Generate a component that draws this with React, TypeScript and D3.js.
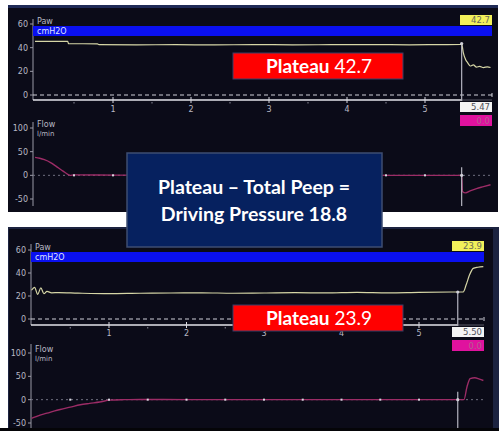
import React from "react";
import * as d3 from "d3";

// ---------- data ----------
const xTicks = [1, 2, 3, 4, 5];
const xMinorTicks = [0.5, 1.5, 2.5, 3.5, 4.5];
const pawTicks = [0, 20, 40, 60];
const flowTicks = [-50, 0, 50, 100];

// Top screen (before): Paw and Flow traces (time s, value)
const topPawT = [0, 0.42, 0.43, 0.8, 0.82, 1.3, 1.8, 2.3, 2.8, 3.3, 3.8, 4.3, 4.8, 5.2, 5.46, 5.47, 5.49, 5.52, 5.55, 5.58, 5.62, 5.66, 5.7, 5.75, 5.8, 5.84];
const topPawV = [45.3, 45.3, 43.4, 43.2, 42.6, 42.4, 42.5, 42.3, 42.6, 42.4, 42.5, 42.6, 42.4, 42.6, 42.7, 43.5, 36, 30, 27, 24.5, 25.5, 23.5, 24.2, 23.2, 23.8, 23.2];
const topFlowT = [0, 0.06, 0.12, 0.2, 0.28, 0.36, 0.42, 0.45, 0.5, 1, 2, 3, 4, 5, 5.46, 5.47, 5.48, 5.52, 5.58, 5.66, 5.75, 5.84];
const topFlowV = [38, 36, 33, 27, 18, 9, 2, 0, 1, 0.5, 0, 0.5, 0, 0, 0, 0, -34, -37, -33, -28, -24, -20];

// Bottom screen (after): Paw and Flow traces
const botPawT = [0, 0.04, 0.08, 0.12, 0.16, 0.2, 0.26, 0.35, 0.6, 1, 1.4, 1.8, 2.2, 2.6, 3, 3.4, 3.8, 4.2, 4.6, 5, 5.5, 5.57, 5.61, 5.65, 5.7, 5.76, 5.83];
const botPawV = [25, 27.5, 21.5, 27, 22, 24, 22.8, 23, 22.5, 22, 22.4, 22.6, 22.8, 22.4, 22.6, 22.9, 22.7, 23.2, 22.8, 23.2, 23.5, 23.5, 30, 38, 44, 45, 45.5];
const botFlowT = [0, 0.05, 0.11, 0.2, 0.3, 0.37, 0.5, 0.63, 0.75, 0.88, 1.01, 1.2, 1.4, 2, 3, 4, 5, 5.5, 5.58, 5.62, 5.66, 5.72, 5.78, 5.83];
const botFlowV = [-40, -37, -33, -29, -24, -21, -16, -11, -8, -5, -1, 0, 0.5, 0, 0, 0, 0, 0, 0, 28, 45, 47, 44, 41];

const topPlateau = 42.7;
const botPlateau = 23.9;
const drivingPressure = 18.8;
const topCursor = 5.47;
const botCursor = 5.5;
const flowReadout = "0.0";

// ---------- styles ----------
const PANEL_BG = "#0b0b18";
const FRAME = "#1f2a56";
const AXIS = "#9a9aa6";
const LABEL = "#b8b8c4";
const PAW_COLOR = "#d6d6a6";
const FLOW_COLOR = "#9c2c66";
const MONO = "'DejaVu Sans', sans-serif";
const SLIDE = "Lato, 'Open Sans', sans-serif";

type PanelCfg = {
  x: d3.ScaleLinear<number, number>;
  paw: d3.ScaleLinear<number, number>;
  flow: d3.ScaleLinear<number, number>;
  axisX: number;
  rightX: number;
  axisY: number;
  barTop: number;
  barH: number;
  boxW: number;
  pawT: number[];
  pawV: number[];
  flowT: number[];
  flowV: number[];
  cursor: number;
  plateau: number;
  whiteTop: number;
  pawAxisTop: number;
  flowAxisTop: number;
  flowAxisBottom: number;
  tickLabelY: number;
};

function Panel({ c }: { c: PanelCfg }) {
  const pawLine = d3
    .line<number>()
    .x((_, i) => c.x(c.pawT[i]))
    .y((v) => c.paw(v))
    .curve(d3.curveMonotoneX);
  const flowLine = d3
    .line<number>()
    .x((_, i) => c.x(c.flowT[i]))
    .y((v) => c.flow(v))
    .curve(d3.curveMonotoneX);
  const cx = c.x(c.cursor);
  const cursorPaw = c.paw(c.pawV[c.pawT.findIndex((t) => t >= c.cursor)]);
  const boxX = c.rightX - c.boxW;
  const zeroPaw = c.paw(0);
  const zeroFlow = c.flow(0);
  return (
    <g>
      {/* Paw axis */}
      <line x1={c.axisX} x2={c.axisX} y1={c.pawAxisTop} y2={c.axisY} stroke={AXIS} strokeWidth={1} />
      {pawTicks.map((t) => (
        <g key={"p" + t}>
          <line x1={c.axisX - 3} x2={c.axisX} y1={c.paw(t)} y2={c.paw(t)} stroke={AXIS} />
          <text x={c.axisX - 5} y={c.paw(t) + 3} fontSize={8} fill={LABEL} textAnchor="end" fontFamily={MONO}>
            {t}
          </text>
        </g>
      ))}
      <text x={c.axisX + 4} y={c.barTop - 2} fontSize={8} fill={LABEL} fontFamily={MONO}>Paw</text>
      <rect x={c.axisX} y={c.barTop} width={c.rightX - c.axisX} height={c.barH} fill="#0a10f0" />
      <text x={c.axisX + 4} y={c.barTop + c.barH - 2} fontSize={8} fill="#dfe3ff" fontFamily={MONO}>cmH2O</text>
      <rect x={boxX} y={c.barTop - c.barH - 1} width={c.boxW} height={c.barH} fill="#f2f05a" />
      <text x={c.rightX - 2} y={c.barTop - 3} fontSize={8.5} fill="#6a6a58" textAnchor="end" fontFamily={MONO}>
        {c.plateau.toFixed(1)}
      </text>
      {/* zero dashed line */}
      <line x1={c.axisX} x2={c.rightX} y1={zeroPaw} y2={zeroPaw} stroke="#d0d0d8" strokeDasharray="4,3" strokeWidth={1} />
      <line x1={c.rightX} x2={c.rightX} y1={zeroPaw - 2} y2={zeroPaw + 2} stroke="#d0d0d8" />
      {/* time axis */}
      <line x1={c.axisX} x2={cx} y1={c.axisY} y2={c.axisY} stroke="#e4e4ea" strokeWidth={1.5} />
      <line x1={cx} x2={c.rightX} y1={c.axisY} y2={c.axisY} stroke="#5a5a66" strokeWidth={1} />
      {xTicks.map((t) => (
        <g key={"x" + t}>
          <line x1={c.x(t)} x2={c.x(t)} y1={c.axisY - 3} y2={c.axisY + 3} stroke="#d8d8e0" />
          <text x={c.x(t)} y={c.tickLabelY} fontSize={8} fill={LABEL} textAnchor="middle" fontFamily={MONO}>
            {t}
          </text>
        </g>
      ))}
      {xMinorTicks.map((t) => (
        <rect key={"m" + t} x={c.x(t) - 0.5} y={c.axisY + 2} width={1} height={1.5} fill="#8a8a96" />
      ))}
      <path d={pawLine(c.pawV) || ""} fill="none" stroke={PAW_COLOR} strokeWidth={1.2} />
      {/* cursor */}
      <line x1={cx} x2={cx} y1={cursorPaw} y2={c.axisY + 1} stroke="#b4b4c0" strokeWidth={1.2} />
      <circle cx={cx} cy={cursorPaw} r={1.6} fill="#d0d0d8" />
      <rect x={boxX} y={c.whiteTop} width={c.boxW} height={10} fill="#f4f4f4" />
      <text x={c.rightX - 2} y={c.whiteTop + 8} fontSize={8.5} fill="#505058" textAnchor="end" fontFamily={MONO}>
        {c.cursor.toFixed(2)}
      </text>
      <rect x={boxX} y={c.whiteTop + 13} width={c.boxW} height={11} fill="#e0129e" />
      <text x={c.rightX - 2} y={c.whiteTop + 22} fontSize={8.5} fill="#b06090" textAnchor="end" fontFamily={MONO}>
        {flowReadout}
      </text>
      {/* Flow axis */}
      <line x1={c.axisX} x2={c.axisX} y1={c.flowAxisTop} y2={c.flowAxisBottom} stroke={AXIS} strokeWidth={1} />
      {flowTicks.map((t) => (
        <g key={"f" + t}>
          <line x1={c.axisX - 3} x2={c.axisX} y1={c.flow(t)} y2={c.flow(t)} stroke={AXIS} />
          <text x={c.axisX - 5} y={c.flow(t) + 3} fontSize={8} fill={LABEL} textAnchor="end" fontFamily={MONO}>
            {t}
          </text>
        </g>
      ))}
      <text x={c.axisX + 4} y={c.flow(100) - 1} fontSize={8} fill={LABEL} fontFamily={MONO}>Flow</text>
      <text x={c.axisX + 4} y={c.flow(100) + 8} fontSize={7} fill={LABEL} fontFamily={MONO}>l/min</text>
      <line x1={c.axisX} x2={c.rightX} y1={zeroFlow} y2={zeroFlow} stroke="#707080" strokeDasharray="2,3" />
      <path d={flowLine(c.flowV) || ""} fill="none" stroke={FLOW_COLOR} strokeWidth={1.4} />
      {[...xTicks, ...xMinorTicks].map((t) => (
        <rect key={"fz" + t} x={c.x(t) - 1} y={zeroFlow - 1} width={2} height={2} fill="#d8d8e0" />
      ))}
      <line x1={cx} x2={cx} y1={zeroFlow - 8} y2={c.flowAxisBottom} stroke="#b4b4c0" strokeWidth={1.2} />
      <circle cx={cx} cy={zeroFlow} r={1.6} fill="#d0d0d8" />
    </g>
  );
}

function RedBox({ x, y, w, h, value }: { x: number; y: number; w: number; h: number; value: number }) {
  return (
    <g>
      <rect x={x} y={y} width={w} height={h} fill="#ff0000" stroke="#3a3f66" strokeWidth={1} />
      <text x={x + w / 2 + 1} y={y + h / 2 + 6.5} fontSize={19} fill="#ffffff" textAnchor="middle" fontFamily={SLIDE}>
        <tspan fontWeight="bold">Plateau</tspan>
        <tspan> {value.toFixed(1)}</tspan>
      </text>
    </g>
  );
}

export default function App() {
  const top: PanelCfg = {
    x: d3.scaleLinear().domain([0, 5]).range([35, 425]),
    paw: d3.scaleLinear().domain([0, 60]).range([95, 24]),
    flow: d3.scaleLinear().domain([-50, 100]).range([199, 128]),
    axisX: 33,
    rightX: 492,
    axisY: 100,
    barTop: 26,
    barH: 10,
    boxW: 32,
    pawT: topPawT,
    pawV: topPawV,
    flowT: topFlowT,
    flowV: topFlowV,
    cursor: topCursor,
    plateau: topPlateau,
    whiteTop: 102,
    pawAxisTop: 19,
    flowAxisTop: 122,
    flowAxisBottom: 206,
    tickLabelY: 112,
  };
  const bot: PanelCfg = {
    x: d3.scaleLinear().domain([0, 5]).range([31.5, 419]),
    paw: d3.scaleLinear().domain([0, 60]).range([319, 250]),
    flow: d3.scaleLinear().domain([-50, 100]).range([423, 353]),
    axisX: 31,
    rightX: 484,
    axisY: 325,
    barTop: 252,
    barH: 10,
    boxW: 32,
    pawT: botPawT,
    pawV: botPawV,
    flowT: botFlowT,
    flowV: botFlowV,
    cursor: botCursor,
    plateau: botPlateau,
    whiteTop: 327,
    pawAxisTop: 244,
    flowAxisTop: 344,
    flowAxisBottom: 428,
    tickLabelY: 336,
  };
  return (
    <svg
      width={499}
      height={431}
      viewBox="0 0 499 431"
      style={{ position: "absolute", left: 0, top: 0, background: "#ffffff" }}
    >
      {/* top screen */}
      <rect x={8} y={5} width={490} height={207} fill={PANEL_BG} />
      <rect x={8} y={5} width={490} height={3} fill={FRAME} />
      <Panel c={top} />
      <RedBox x={233} y={53} w={170} h={26} value={topPlateau} />

      {/* bottom screen */}
      <rect x={8} y={227} width={491} height={204} fill="#1c2340" />
      <rect x={9} y={229} width={484} height={199} fill={PANEL_BG} />
      <rect x={0} y={428} width={499} height={3} fill="#050508" />
      <Panel c={bot} />
      <RedBox x={233} y={305} w={170} h={26} value={botPlateau} />

      {/* summary box */}
      <rect x={127} y={153} width={255} height={94} fill="#06215f" stroke="#3e4d72" strokeWidth={1.5} />
      <text x={254} y={194} fontSize={19.5} fontWeight="bold" fill="#ffffff" textAnchor="middle" fontFamily={SLIDE}>
        Plateau – Total Peep =
      </text>
      <text x={254} y={221} fontSize={19.5} fontWeight="bold" fill="#ffffff" textAnchor="middle" fontFamily={SLIDE}>
        Driving Pressure {drivingPressure.toFixed(1)}
      </text>
    </svg>
  );
}
